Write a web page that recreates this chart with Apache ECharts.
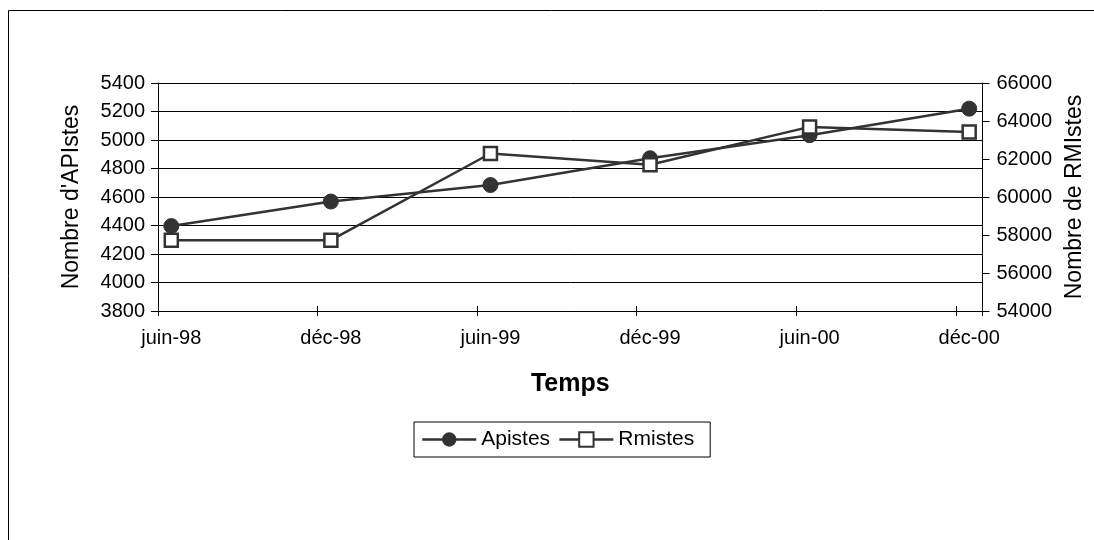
<!DOCTYPE html>
<html>
<head>
<meta charset="utf-8">
<script src="https://cdn.jsdelivr.net/npm/echarts@6/dist/echarts.min.js"></script>
<style>
html,body{margin:0;padding:0;background:#fff;}
#chart{width:1094px;height:540px;}
</style>
</head>
<body>
<div id="chart"></div>
<script>
// Months used to build the monthly category axis (juin-98 .. déc-00)
const monthNames = ['janv','févr','mars','avr','mai','juin','juil','août','sept','oct','nov','déc'];
const startMonth = 5, startYear = 1998, monthCount = 31;

// Observation dates and values
const dates = ['juin-98', 'déc-98', 'juin-99', 'déc-99', 'juin-00', 'déc-00'];
const apistes = [4396, 4568, 4684, 4872, 5034, 5220];
const rmistes = [57730, 57730, 62290, 61700, 63690, 63420];

const leftTicks = {min: 3800, max: 5400, interval: 200};
const rightTicks = {min: 54000, max: 66000, interval: 2000};

// Build monthly categories and place values in their month slots
const categories = [];
for (let i = 0; i < monthCount; i++) {
  const m = (startMonth + i) % 12;
  const y = startYear + Math.floor((startMonth + i) / 12);
  categories.push(monthNames[m] + '-' + String(y % 100).padStart(2, '0'));
}
const apData = categories.map(c => { const k = dates.indexOf(c); return k >= 0 ? apistes[k] : null; });
const rmData = categories.map(c => { const k = dates.indexOf(c); return k >= 0 ? rmistes[k] : null; });

const FONT = 'Liberation Sans, Arial, sans-serif';
const plain = v => String(v);
const chart = echarts.init(document.getElementById('chart'), null, {renderer: 'canvas'});
chart.setOption({
  animation: false,
  backgroundColor: '#fff',
  textStyle: {fontFamily: FONT, color: '#000'},
  graphic: [{
    type: 'rect', z: -1,
    shape: {x: 8.5, y: 10.5, width: 1100, height: 540},
    style: {fill: 'none', stroke: '#000', lineWidth: 1}
  }],
  grid: {left: 158, right: 111, top: 83, bottom: 229},
  legend: {
    left: 414, top: 422,
    orient: 'horizontal',
    borderColor: '#000', borderWidth: 1,
    padding: [7, 16, 7, 7],
    itemGap: 8,
    itemWidth: 54, itemHeight: 18,
    lineStyle: {width: 2.5},
    textStyle: {fontFamily: FONT, fontSize: 21, color: '#000'},
    data: ['Apistes', 'Rmistes']
  },
  xAxis: [{
    type: 'category',
    data: categories,
    boundaryGap: true,
    name: 'Temps',
    nameLocation: 'middle',
    nameGap: 61,
    nameTextStyle: {fontFamily: FONT, fontSize: 25, fontWeight: 'bold', color: '#000'},
    axisLine: {lineStyle: {color: '#000', width: 1}},
    axisTick: {show: true, interval: 5, length: 5, lineStyle: {color: '#000'}},
    axisLabel: {interval: 5, margin: 17, fontSize: 20, color: '#000', fontFamily: FONT},
    splitLine: {show: false}
  }, {
    type: 'category',
    data: categories,
    boundaryGap: true,
    position: 'bottom',
    axisLine: {show: false},
    axisTick: {show: true, inside: true, interval: 5, length: 5, lineStyle: {color: '#000'}},
    axisLabel: {show: false},
    splitLine: {show: false}
  }],
  yAxis: [{
    type: 'value',
    position: 'left',
    min: leftTicks.min, max: leftTicks.max, interval: leftTicks.interval,
    name: "Nombre d'APIstes",
    nameLocation: 'middle',
    nameRotate: 90,
    nameGap: 75,
    nameTextStyle: {fontFamily: FONT, fontSize: 23, color: '#000'},
    axisLine: {show: true, lineStyle: {color: '#000'}},
    axisTick: {show: true, length: 7, lineStyle: {color: '#000'}},
    axisLabel: {margin: 13, fontSize: 20, color: '#000', fontFamily: FONT, formatter: plain},
    splitLine: {show: true, lineStyle: {color: '#000', width: 1}}
  }, {
    type: 'value',
    position: 'right',
    min: rightTicks.min, max: rightTicks.max, interval: rightTicks.interval,
    name: 'Nombre de RMIstes',
    nameLocation: 'middle',
    nameRotate: 90,
    nameGap: 80,
    nameTextStyle: {fontFamily: FONT, fontSize: 23, color: '#000'},
    axisLine: {show: true, lineStyle: {color: '#000'}},
    axisTick: {show: true, length: 7, lineStyle: {color: '#000'}},
    axisLabel: {margin: 14, fontSize: 20, color: '#000', fontFamily: FONT, formatter: plain},
    splitLine: {show: false}
  }],
  series: [{
    name: 'Apistes',
    type: 'line',
    xAxisIndex: 0, yAxisIndex: 0,
    data: apData,
    connectNulls: true,
    symbol: 'circle',
    symbolSize: 15,
    showSymbol: true,
    lineStyle: {color: '#333', width: 2.5},
    itemStyle: {color: '#333', borderColor: '#333'},
    z: 3
  }, {
    name: 'Rmistes',
    type: 'line',
    xAxisIndex: 0, yAxisIndex: 1,
    data: rmData,
    connectNulls: true,
    symbol: 'rect',
    symbolSize: 13,
    showSymbol: true,
    lineStyle: {color: '#333', width: 2.5},
    itemStyle: {color: '#fff', borderColor: '#333', borderWidth: 2.5},
    z: 4
  }]
});
</script>
</body>
</html>
